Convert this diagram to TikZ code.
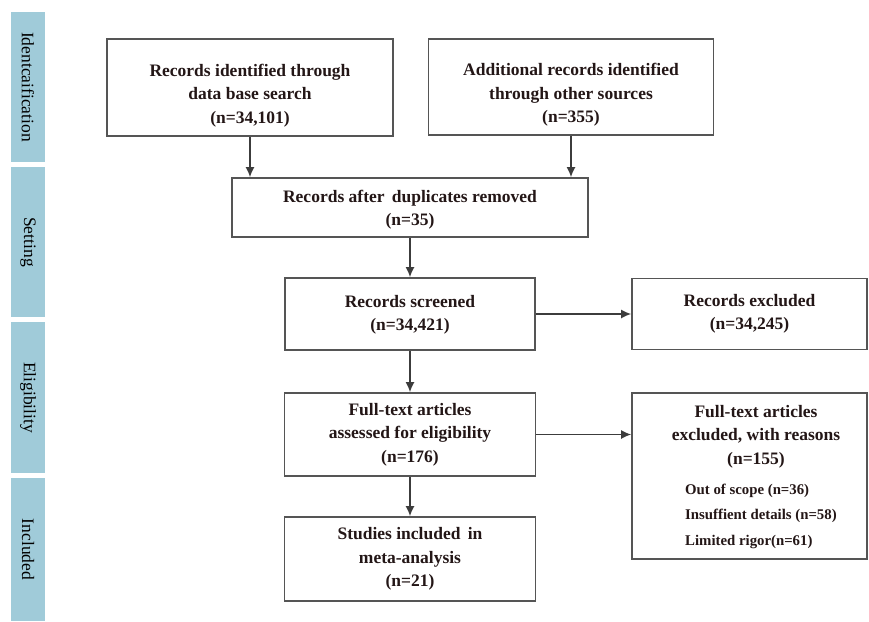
\documentclass[tikz,border=0pt]{standalone}
\usepackage{fontspec}
\setmainfont{Liberation Serif}
\usetikzlibrary{arrows.meta}
\definecolor{tabblue}{RGB}{160,203,217}
\definecolor{boxline}{RGB}{85,85,85}
\definecolor{txtcol}{RGB}{35,22,22}
\tikzset{
  tabbox/.style={fill=tabblue, draw=none},
  tabtxt/.style={rotate=-90, font=\fontsize{17.5}{20}\selectfont, text=black},
  frame/.style={draw=boxline, line width=1.6pt, fill=white, inner sep=0pt},
  txt/.style={align=center, text=txtcol, font=\bfseries\fontsize{17.5}{23.5}\selectfont, inner sep=0pt},
  small/.style={align=left, text=txtcol, font=\bfseries\fontsize{14.8}{25.5}\selectfont, inner sep=0pt},
  arr/.style={draw=boxline!70!black, line width=1.6pt, -{Latex[length=10pt,width=9pt]}}
}
\begin{document}
\begin{tikzpicture}[x=1pt,y=-1pt]
\useasboundingbox (0,0) rectangle (869,621);
% side tabs
\node[tabbox, minimum width=34pt, minimum height=150pt, inner sep=0pt] (tab1) at (28,87) {};
\node[tabbox, minimum width=34pt, minimum height=150pt, inner sep=0pt] (tab2) at (28,242) {};
\node[tabbox, minimum width=34pt, minimum height=151pt, inner sep=0pt] (tab3) at (28,397.5) {};
\node[tabbox, minimum width=34pt, minimum height=143pt, inner sep=0pt] (tab4) at (28,549.5) {};
\node[tabtxt] (tt1) at (tab1.center) {Identcaification};
\node[tabtxt] (tt2) at (tab2.center) {Setting};
\node[tabtxt] (tt3) at (tab3.center) {Eligibility};
\node[tabtxt] (tt4) at (tab4.center) {Included};
% boxes
\node[frame, minimum width=286pt, minimum height=97pt] (b1) at (250,87.5) {};
\node[frame, minimum width=285pt, minimum height=96pt] (b2) at (571,87) {};
\node[frame, minimum width=356pt, minimum height=59pt] (b3) at (410,207.5) {};
\node[frame, minimum width=250pt, minimum height=72pt] (b4) at (410,314) {};
\node[frame, minimum width=235pt, minimum height=71pt] (b5) at (749.5,314) {};
\node[frame, minimum width=251pt, minimum height=83pt] (b6) at (410,434.5) {};
\node[frame, minimum width=235pt, minimum height=166pt] (b7) at (749.5,476) {};
\node[frame, minimum width=251pt, minimum height=84pt] (b8) at (410,559) {};
% texts
\node[txt] (t1) at ([yshift=-8pt]b1.center) {Records identified through\\data base search\\(n=34,101)};
\node[txt] (t2) at ([yshift=-8pt]b2.center) {Additional records identified\\through other sources\\(n=355)};
\node[txt] (t3) at ([yshift=-2pt]b3.center) {Records after\, duplicates removed\\(n=35)};
\node[txt] (t4) at ([yshift=-1pt]b4.center) {Records screened\\(n=34,421)};
\node[txt] (t5) at (b5.center) {Records excluded\\(n=34,245)};
\node[txt] (t6) at (b6.center) {Full-text articles\\assessed for eligibility\\(n=176)};
\node[txt] (t7) at (756,436.5) {Full-text articles\\excluded, with reasons\\(n=155)};
\node[small, anchor=west] (t7b) at (685,516) {Out of scope (n=36)\\Insuffient details (n=58)\\Limited rigor(n=61)};
\node[txt] (t8) at (b8.center) {Studies included\, in\\meta-analysis\\(n=21)};
% arrows
\draw[arr] (b1.south) -- (b1.south |- b3.north);
\draw[arr] (b2.south) -- (b2.south |- b3.north);
\draw[arr] (b3.south) -- (b4.north);
\draw[arr] (b4.east) -- (b5.west);
\draw[arr] (b4.south) -- (b6.north);
\draw[arr] (b6.east) -- (b6.east -| b7.west);
\draw[arr] (b6.south) -- (b8.north);
\end{tikzpicture}
\end{document}
